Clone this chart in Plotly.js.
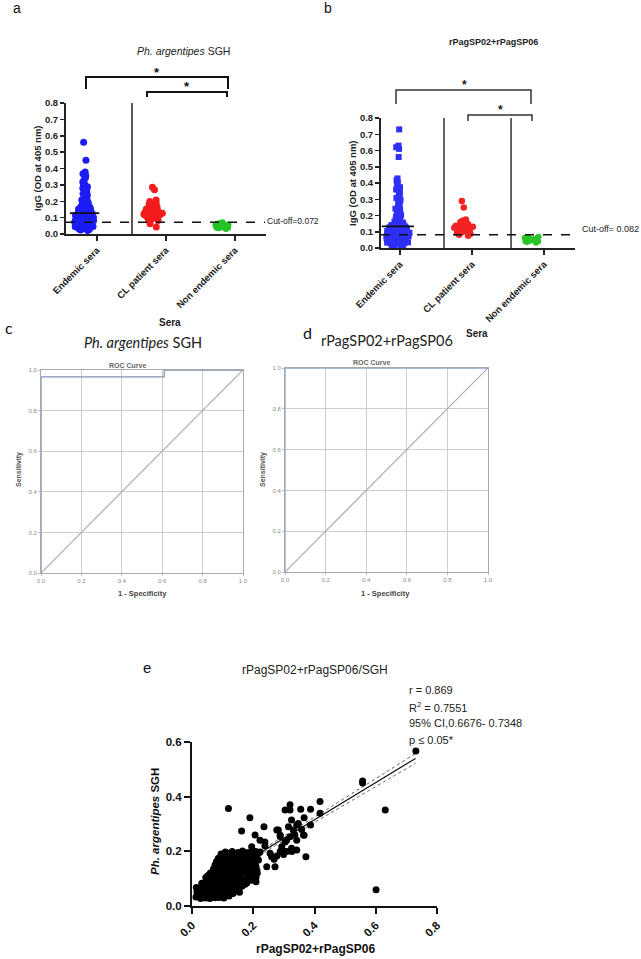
<!DOCTYPE html>
<html><head><meta charset="utf-8">
<script src="https://cdn.plot.ly/plotly-3.0.1.min.js"></script>
<style>html,body{margin:0;padding:0;background:#fff}#chart{width:641px;height:959px}</style>
</head><body><div id="chart"></div>
<script>
// ---------------- DATA ----------------
const seraCategories = ['Endemic sera', 'CL patient sera', 'Non endemic sera'];

// Panel a: Ph. argentipes SGH IgG (OD 405 nm)
const sghEndemic = [0.021,0.025,0.028,0.031,0.033,0.034,0.036,0.038,0.039,
0.040,0.041,0.042,0.043,0.044,0.045,0.046,0.047,0.048,0.049,
0.050,0.051,0.052,0.053,0.053,0.054,0.055,0.056,0.057,0.058,0.059,
0.060,0.061,0.062,0.063,0.064,0.064,0.065,0.066,0.067,0.068,0.069,
0.070,0.071,0.072,0.073,0.074,0.075,0.075,0.076,0.077,0.078,0.079,
0.080,0.081,0.082,0.083,0.084,0.085,0.086,0.086,0.087,0.089,
0.090,0.091,0.092,0.093,0.094,0.095,0.096,0.097,0.098,
0.100,0.101,0.102,0.103,0.104,0.105,0.107,0.108,0.109,
0.110,0.111,0.112,0.113,0.115,0.116,0.117,0.118,0.119,
0.120,0.122,0.123,0.124,0.125,0.127,0.129,
0.130,0.132,0.134,0.136,0.138,
0.140,0.142,0.145,0.147,0.149,
0.151,0.153,0.156,0.158,
0.160,0.163,0.166,0.169,
0.171,0.174,0.178,0.181,0.185,0.189,0.192,0.196,0.199,
0.203,0.208,0.212,0.218,0.224,0.231,0.238,0.246,0.254,0.262,
0.271,0.279,0.288,0.297,0.306,0.318,0.331,0.344,0.356,0.368,0.379,
0.45,0.56];
const sghCL = [0.043,0.062,0.082,0.088,0.093,0.097,0.100,0.103,0.106,0.109,0.112,0.115,0.118,0.121,
0.124,0.127,0.130,0.133,0.136,0.139,0.142,0.145,0.148,0.152,0.156,0.160,0.165,0.170,0.176,
0.182,0.190,0.198,0.208,0.270,0.285];
const sghNonEndemic = [0.032,0.036,0.038,0.040,0.042,0.043,0.045,0.046,0.047,0.048,0.050,0.051,
0.052,0.054,0.055,0.057,0.060,0.062,0.065,0.070];

// Panel b: rPagSP02+rPagSP06 IgG (OD 405 nm)
const rpagEndemic = [0.006,0.010,0.014,0.018,0.021,0.022,0.024,0.026,0.027,0.029,
0.030,0.031,0.032,0.033,0.034,0.035,0.036,0.037,0.038,0.039,0.040,0.041,0.042,0.043,0.044,
0.045,0.046,0.047,0.048,0.049,0.050,0.051,0.052,0.053,0.054,0.055,0.056,0.057,0.058,0.059,
0.060,0.061,0.062,0.063,0.064,0.065,0.066,0.067,0.068,0.069,0.070,0.071,0.072,0.073,0.074,
0.075,0.076,0.077,0.078,0.079,0.080,0.081,0.082,0.083,0.084,0.085,0.086,0.087,0.088,0.089,
0.090,0.091,0.092,0.093,0.094,0.095,0.096,0.097,0.098,0.099,0.100,0.101,0.102,0.103,0.105,
0.106,0.107,0.108,0.109,0.111,0.112,0.114,0.115,0.117,0.118,0.119,0.121,0.122,0.124,0.125,
0.127,0.128,0.130,0.131,0.133,0.134,0.138,
0.141,0.145,0.149,0.152,0.157,0.161,0.166,0.171,0.176,0.182,0.188,
0.194,0.201,0.208,0.216,0.224,0.233,0.242,0.252,0.262,0.273,0.284,0.296,
0.308,0.321,0.334,0.347,0.360,0.374,0.388,0.402,0.416,0.428,
0.56,0.61,0.62,0.63,0.73];
const rpagCL = [0.075,0.082,0.088,0.093,0.097,0.100,0.104,0.107,0.110,0.113,0.116,0.119,0.122,
0.125,0.128,0.131,0.134,0.137,0.140,0.143,0.147,0.151,0.155,0.160,0.165,0.170,0.176,0.25,0.29];
const rpagNonEndemic = [0.033,0.037,0.040,0.042,0.044,0.046,0.048,0.050,0.052,0.054,0.056,
0.058,0.060,0.063,0.066,0.070];

const cutoffValues = [0.072, 0.082];
const cutoffLabels = ['Cut-off=0.072', 'Cut-off= 0.082'];

// Panels c, d: ROC curves
const rocSghFpr = [0, 0, 0.61, 0.61, 1];
const rocSghTpr = [0, 0.966, 0.966, 1, 1];
const rocRpagFpr = [0, 0, 1];
const rocRpagTpr = [0, 1, 1];
const refDiagonal = [0, 1];

// Panel e: correlation (x = rPagSP02+rPagSP06, y = SGH)
const corrPoints = [
[0.013,0.033],[0.016,0.051],[0.014,0.068],[0.022,0.040],[0.021,0.058],
[0.028,0.027],[0.031,0.046],[0.029,0.064],[0.032,0.083],
[0.037,0.036],[0.038,0.055],[0.036,0.074],
[0.044,0.029],[0.047,0.047],[0.043,0.067],[0.046,0.086],[0.045,0.104],
[0.052,0.037],[0.053,0.057],[0.051,0.076],[0.054,0.094],[0.052,0.112],
[0.058,0.027],[0.062,0.045],[0.059,0.066],[0.061,0.084],[0.057,0.101],[0.060,0.121],
[0.067,0.037],[0.068,0.056],[0.066,0.075],[0.069,0.093],[0.067,0.112],[0.070,0.135],
[0.074,0.030],[0.077,0.049],[0.072,0.071],[0.076,0.089],[0.073,0.111],[0.078,0.129],[0.075,0.150],
[0.082,0.040],[0.083,0.061],[0.081,0.082],[0.084,0.103],[0.082,0.124],[0.083,0.145],[0.080,0.163],
[0.088,0.031],[0.092,0.053],[0.089,0.072],[0.091,0.095],[0.087,0.114],[0.093,0.137],[0.090,0.156],[0.086,0.175],
[0.097,0.040],[0.098,0.063],[0.096,0.084],[0.099,0.106],[0.097,0.128],[0.098,0.148],[0.096,0.170],[0.095,0.190],
[0.104,0.029],[0.107,0.051],[0.102,0.073],[0.106,0.094],[0.103,0.119],[0.108,0.139],[0.105,0.163],[0.101,0.184],[0.109,0.198],
[0.113,0.040],[0.112,0.062],[0.114,0.084],[0.111,0.107],[0.113,0.129],[0.112,0.152],[0.114,0.175],[0.110,0.195],
[0.121,0.037],[0.118,0.061],[0.123,0.081],[0.119,0.105],[0.122,0.125],[0.117,0.149],[0.124,0.169],[0.120,0.191],
[0.128,0.050],[0.127,0.072],[0.129,0.096],[0.126,0.118],[0.128,0.142],[0.127,0.165],[0.129,0.188],
[0.134,0.046],[0.137,0.066],[0.132,0.091],[0.136,0.111],[0.133,0.136],[0.138,0.156],[0.135,0.181],[0.131,0.199],
[0.143,0.055],[0.142,0.077],[0.144,0.100],[0.141,0.123],[0.143,0.146],[0.142,0.169],[0.144,0.190],
[0.149,0.061],[0.152,0.086],[0.147,0.107],[0.151,0.131],[0.148,0.152],[0.153,0.177],[0.150,0.196],
[0.158,0.070],[0.157,0.100],[0.159,0.123],[0.156,0.146],[0.158,0.168],[0.157,0.190],
[0.164,0.073],[0.167,0.094],[0.162,0.119],[0.166,0.139],[0.163,0.163],[0.168,0.184],[0.165,0.201],
[0.173,0.080],[0.172,0.120],[0.174,0.142],[0.171,0.165],[0.173,0.187],
[0.179,0.084],[0.182,0.109],[0.177,0.129],[0.181,0.153],[0.178,0.174],[0.183,0.196],
[0.188,0.100],[0.187,0.130],[0.189,0.150],[0.186,0.172],[0.188,0.192],
[0.194,0.094],[0.197,0.119],[0.192,0.139],[0.196,0.164],[0.193,0.184],[0.198,0.201],
[0.202,0.120],[0.203,0.165],[0.201,0.190],
[0.209,0.104],[0.212,0.131],[0.207,0.154],[0.211,0.179],[0.208,0.199],
[0.238,0.220],[0.238,0.234],[0.268,0.171],[0.299,0.188],[0.293,0.204],[0.277,0.278],[0.288,0.259],
[0.304,0.234],[0.320,0.253],[0.331,0.278],[0.347,0.302],[0.358,0.280],[0.366,0.259],[0.342,0.205],
[0.326,0.199],[0.304,0.199],[0.277,0.183],[0.255,0.193],[0.209,0.144],[0.217,0.168],[0.222,0.198],
[0.222,0.241],[0.206,0.260],[0.195,0.217],[0.217,0.193],[0.244,0.144],[0.271,0.144],[0.260,0.180],
[0.213,0.120],[0.209,0.089],[0.235,0.290],[0.162,0.274],[0.189,0.323],[0.119,0.357],[0.122,0.049],
[0.155,0.050],[0.282,0.278],[0.288,0.254],[0.309,0.241],[0.293,0.217],[0.309,0.199],[0.288,0.199],
[0.325,0.211],[0.336,0.260],[0.364,0.260],[0.342,0.241],[0.315,0.290],[0.342,0.296],[0.325,0.315],
[0.366,0.323],[0.387,0.296],[0.372,0.180],[0.320,0.370],[0.320,0.351],[0.304,0.351],[0.355,0.354],
[0.387,0.354],[0.418,0.382],[0.418,0.339],[0.557,0.457],[0.557,0.450],[0.631,0.351],[0.601,0.059],
[0.731,0.567]];
const fitX = [0.02, 0.73];
const fitY = [0.057, 0.540];
const ciX = [0.02, 0.15, 0.73];
const ciUpper = [0.068, 0.152, 0.558];
const ciLower = [0.046, 0.139, 0.522];
const statsLines = ['r = 0.869', 'R<sup>2</sup> = 0.7551', '95% CI,0.6676- 0.7348', 'p \u2264 0.05*'];

// ---------------- HELPERS ----------------
const W = 641, H = 959;
const px = v => v / W;
const py = v => 1 - v / H;
const ARIAL = 'Liberation Sans, Arial, Helvetica, sans-serif';
const CAL = 'Lato, Carlito, Calibri, sans-serif';
const mean = a => a.reduce((s, v) => s + v, 0) / a.length;

function strip(vals, idx, xa, ya, color, symbol, size, pointpos, jitter) {
  return {type: 'box', x0: idx, y: vals, xaxis: xa, yaxis: ya, width: 0.4,
    boxpoints: 'all', jitter: jitter, pointpos: pointpos,
    fillcolor: 'rgba(0,0,0,0)', line: {width: 0, color: 'rgba(0,0,0,0)'}, whiskerwidth: 0,
    marker: {color: color, symbol: symbol, size: size, line: {width: 0}},
    hoverinfo: 'y', showlegend: false};
}
function meanMark(vals, xpos, xa, ya, size) {
  return {type: 'scatter', mode: 'markers', x: [xpos], y: [mean(vals)], xaxis: xa, yaxis: ya,
    marker: {symbol: 'line-ew', size: size, color: '#111', line: {width: 1.8, color: '#111'}},
    showlegend: false, hoverinfo: 'skip'};
}

const traces = [];
// Panel a
traces.push(strip(sghEndemic, 0, 'x', 'y', '#1c1cf5', 'circle', 7, -0.9, 0.72));
traces.push(strip(sghCL, 1, 'x', 'y', '#f51c1c', 'circle', 7, -0.9, 0.72));
traces.push(strip(sghNonEndemic, 2, 'x', 'y', '#25c425', 'circle', 6.5, -0.9, 0.6));
traces.push(meanMark(sghEndemic, -0.18, 'x', 'y', 21));
// Panel b
traces.push(strip(rpagEndemic, 0, 'x2', 'y2', '#2f2ff5', 'square', 6, -0.15, 0.8));
traces.push(strip(rpagCL, 1, 'x2', 'y2', '#f22424', 'circle', 6.5, -0.55, 0.7));
traces.push(strip(rpagNonEndemic, 2, 'x2', 'y2', '#28c428', 'circle', 6, -0.83, 0.6));
traces.push(meanMark(rpagEndemic, -0.03, 'x2', 'y2', 23));
// Panel c
traces.push({type: 'scatter', mode: 'lines', x: refDiagonal, y: refDiagonal, xaxis: 'x3', yaxis: 'y3',
  line: {color: '#b8a6b2', width: 1.2}, showlegend: false, hoverinfo: 'skip'});
traces.push({type: 'scatter', mode: 'lines', x: rocSghFpr, y: rocSghTpr, xaxis: 'x3', yaxis: 'y3',
  line: {color: '#8094b8', width: 1.3}, showlegend: false});
// Panel d
traces.push({type: 'scatter', mode: 'lines', x: refDiagonal, y: refDiagonal, xaxis: 'x4', yaxis: 'y4',
  line: {color: '#b8a6b2', width: 1.2}, showlegend: false, hoverinfo: 'skip'});
traces.push({type: 'scatter', mode: 'lines', x: rocRpagFpr, y: rocRpagTpr, xaxis: 'x4', yaxis: 'y4',
  line: {color: '#8aa8d0', width: 1.3}, showlegend: false});
// Panel e
traces.push({type: 'scatter', mode: 'lines', x: ciX, y: ciUpper, xaxis: 'x5', yaxis: 'y5',
  line: {color: '#555', width: 1, dash: 'dot', shape: 'spline'}, showlegend: false, hoverinfo: 'skip'});
traces.push({type: 'scatter', mode: 'lines', x: ciX, y: ciLower, xaxis: 'x5', yaxis: 'y5',
  line: {color: '#555', width: 1, dash: 'dot', shape: 'spline'}, showlegend: false, hoverinfo: 'skip'});
traces.push({type: 'scatter', mode: 'lines', x: fitX, y: fitY, xaxis: 'x5', yaxis: 'y5',
  line: {color: '#111', width: 1.2}, showlegend: false, hoverinfo: 'skip'});
traces.push({type: 'scatter', mode: 'markers', x: corrPoints.map(p => p[0]), y: corrPoints.map(p => p[1]),
  xaxis: 'x5', yaxis: 'y5', marker: {color: '#000', size: 7}, showlegend: false});

// ---------------- AXES ----------------
function gpX(domain, range, anchor) {
  return {domain: domain, range: range, anchor: anchor, tickvals: [0, 1, 2], ticktext: seraCategories,
    tickangle: -45, showline: true, linewidth: 2, linecolor: '#222', ticks: 'outside', ticklen: 5,
    tickwidth: 1.5, tickcolor: '#222', showgrid: false, zeroline: false, automargin: false,
    tickfont: {family: ARIAL, size: 9.5, weight: 'bold', color: '#222'}, fixedrange: true};
}
function gpY(domain, anchor) {
  return {domain: domain, range: [0, 0.8], anchor: anchor, dtick: 0.1, tickformat: '.1f',
    showline: true, linewidth: 2, linecolor: '#222', ticks: 'outside', ticklen: 4, tickwidth: 1.5,
    tickcolor: '#222', showgrid: false, zeroline: false, automargin: false,
    tickfont: {family: ARIAL, size: 9.5, weight: 'bold', color: '#222'}, fixedrange: true};
}
function rocAx(domain, anchor) {
  return {domain: domain, range: [0, 1], anchor: anchor, dtick: 0.2, tickformat: '.1f',
    showline: true, mirror: true, linewidth: 1, linecolor: '#a9a9a9', showgrid: true,
    gridcolor: '#cdcdcd', gridwidth: 1, zeroline: false, ticks: 'outside', ticklen: 2,
    tickcolor: '#bbb', automargin: false, tickfont: {family: ARIAL, size: 6, color: '#8a8a8a'},
    fixedrange: true};
}
function eAx(domain, range, anchor, angle) {
  return {domain: domain, range: range, anchor: anchor, dtick: 0.2, tickformat: '.1f', tickangle: angle,
    showline: true, linewidth: 2, linecolor: '#111', ticks: 'outside', ticklen: 6, tickwidth: 2,
    tickcolor: '#111', showgrid: false, zeroline: false, automargin: false,
    tickfont: {family: ARIAL, size: 11.5, weight: 'bold', color: '#111'}, fixedrange: true};
}

// ---------------- ANNOTATIONS ----------------
function ann(text, x, y, o) {
  o = o || {};
  return Object.assign({text: text, x: px(x), y: py(y), xref: 'paper', yref: 'paper', showarrow: false,
    xanchor: 'center', yanchor: 'middle',
    font: {family: ARIAL, size: 10, color: '#111'}}, o);
}
const annotations = [
  ann('a', 17, 8, {font: {family: ARIAL, size: 14, color: '#111'}}),
  ann('b', 328, 8, {font: {family: ARIAL, size: 14, color: '#111'}}),
  ann('c', 9, 327, {font: {family: CAL, size: 16, color: '#111'}}),
  ann('d', 307, 332, {font: {family: CAL, size: 16, color: '#111'}}),
  ann('e', 147, 667, {font: {family: ARIAL, size: 15, color: '#111'}}),
  ann('<i>Ph. argentipes</i> SGH', 183, 51, {font: {family: ARIAL, size: 10.5, color: '#222'}}),
  ann('rPagSP02+rPagSP06', 493, 42, {font: {family: ARIAL, size: 9, weight: 'bold', color: '#222'}}),
  ann('<i>Ph. argentipes</i> SGH', 143, 342, {font: {family: CAL, size: 14.5, color: '#222'}}),
  ann('rPagSP02+rPagSP06', 387, 340, {font: {family: CAL, size: 14.5, color: '#222'}}),
  ann('rPagSP02+rPagSP06/SGH', 315, 670, {font: {family: ARIAL, size: 12, color: '#222'}}),
  ann('Sera', 170, 322, {font: {family: ARIAL, size: 10, weight: 'bold', color: '#222'}}),
  ann('Sera', 477, 333, {font: {family: ARIAL, size: 10, weight: 'bold', color: '#222'}}),
  ann('IgG (OD at 405 nm)', 37, 168, {textangle: -90, font: {family: ARIAL, size: 9.5, weight: 'bold', color: '#222'}}),
  ann('IgG (OD at 405 nm)', 352, 183, {textangle: -90, font: {family: ARIAL, size: 9.5, weight: 'bold', color: '#222'}}),
  ann(cutoffLabels[0], 265, 221, {xanchor: 'left', font: {family: ARIAL, size: 8.5, color: '#222'}}),
  ann(cutoffLabels[1], 580, 229, {xanchor: 'left', font: {family: ARIAL, size: 9, color: '#222'}}),
  ann('*', 157, 72, {font: {family: ARIAL, size: 13, weight: 'bold', color: '#111'}}),
  ann('*', 187, 86, {font: {family: ARIAL, size: 13, weight: 'bold', color: '#111'}}),
  ann('*', 464, 85, {font: {family: ARIAL, size: 12, weight: 'bold', color: '#222'}}),
  ann('*', 500, 110, {font: {family: ARIAL, size: 12, weight: 'bold', color: '#222'}}),
  ann('ROC Curve', 127, 365, {font: {family: ARIAL, size: 7, weight: 'bold', color: '#666'}}),
  ann('ROC Curve', 371, 362, {font: {family: ARIAL, size: 7, weight: 'bold', color: '#666'}}),
  ann('Sensitivity', 19, 470, {textangle: -90, font: {family: ARIAL, size: 7, weight: 'bold', color: '#555'}}),
  ann('Sensitivity', 263, 470, {textangle: -90, font: {family: ARIAL, size: 7, weight: 'bold', color: '#555'}}),
  ann('1 - Specificity', 142, 593, {font: {family: ARIAL, size: 7.5, weight: 'bold', color: '#444'}}),
  ann('1 - Specificity', 386, 593, {font: {family: ARIAL, size: 7.5, weight: 'bold', color: '#444'}}),
  ann('<i>Ph. argentipes</i> SGH', 155, 822, {textangle: -90, font: {family: ARIAL, size: 11.5, weight: 'bold', color: '#111'}}),
  ann('rPagSP02+rPagSP06', 315, 949, {font: {family: ARIAL, size: 12, weight: 'bold', color: '#111'}})
];
statsLines.forEach((t, i) => {
  annotations.push(ann(t, 407, 690 + i * 16.7, {xanchor: 'left', font: {family: ARIAL, size: 11, color: '#222'}}));
});

// ---------------- SHAPES ----------------
function bracket(x0, x1, yTop, yLeg, w, c) {
  return {type: 'path', xref: 'paper', yref: 'paper',
    path: `M ${px(x0)},${py(yLeg)} L ${px(x0)},${py(yTop)} L ${px(x1)},${py(yTop)} L ${px(x1)},${py(yLeg)}`,
    line: {color: c, width: w}};
}
const shapes = [
  bracket(86, 228, 77, 89, 2, '#111'),
  bracket(147, 227, 92, 97, 2, '#111'),
  bracket(396, 531, 90, 104, 1.5, '#333'),
  bracket(468, 532, 115, 121, 1.5, '#333'),
  {type: 'line', xref: 'x', yref: 'y', x0: 0.507, x1: 0.507, y0: 0, y1: 0.8, line: {color: '#222', width: 1.5}},
  {type: 'line', xref: 'x2', yref: 'y2', x0: 0.611, x1: 0.611, y0: 0, y1: 0.8, line: {color: '#333', width: 1.5}},
  {type: 'line', xref: 'x2', yref: 'y2', x0: 1.542, x1: 1.542, y0: 0, y1: 0.8, line: {color: '#333', width: 1.5}},
  {type: 'line', xref: 'x domain', yref: 'y', x0: 0, x1: 0.995, y0: cutoffValues[0], y1: cutoffValues[0],
    line: {color: '#111', width: 1.5, dash: 'dash'}},
  {type: 'line', xref: 'x2 domain', yref: 'y2', x0: 0, x1: 0.975, y0: cutoffValues[1], y1: cutoffValues[1],
    line: {color: '#111', width: 1.5, dash: 'dash'}}
];

const layout = {
  width: W, height: H, margin: {l: 0, r: 0, t: 0, b: 0}, showlegend: false,
  paper_bgcolor: '#fff', plot_bgcolor: '#fff', boxmode: 'overlay',
  xaxis: gpX([px(66), px(266)], [-0.449, 2.449], 'y'),
  yaxis: gpY([py(234), py(103)], 'x'),
  xaxis2: gpX([px(381), px(575)], [-0.264, 2.43], 'y2'),
  yaxis2: gpY([py(248), py(118)], 'x2'),
  xaxis3: rocAx([px(41), px(243)], 'y3'),
  yaxis3: rocAx([py(573), py(370)], 'x3'),
  xaxis4: rocAx([px(285), px(488)], 'y4'),
  yaxis4: rocAx([py(572), py(368)], 'x4'),
  xaxis5: eAx([px(192), px(437)], [0, 0.8], 'y5', -45),
  yaxis5: eAx([py(906), py(742)], [0, 0.6], 'x5', 0),
  annotations: annotations,
  shapes: shapes
};

Plotly.newPlot('chart', traces, layout, {staticPlot: true, displayModeBar: false});
</script>
</body></html>
